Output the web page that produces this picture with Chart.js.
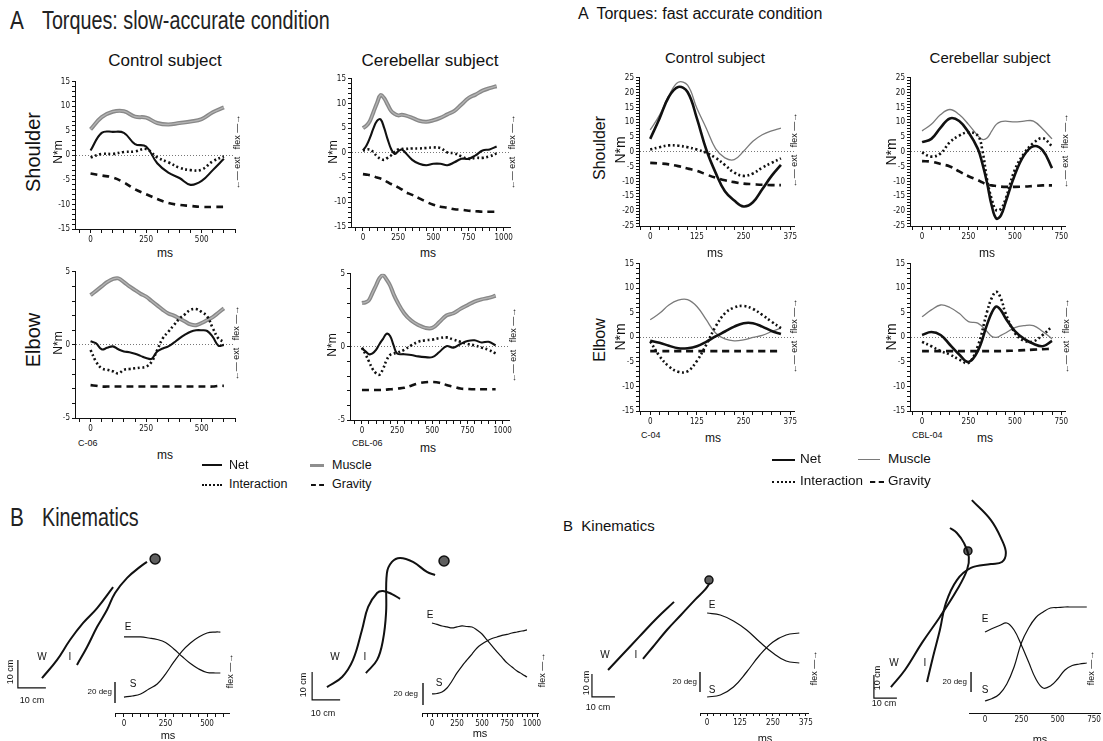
<!DOCTYPE html>
<html>
<head>
<meta charset="utf-8">
<script src="https://cdn.jsdelivr.net/npm/chart.js@4.4.1/dist/chart.umd.min.js"></script>
<style>
  body { margin: 0; background: #fff; width: 1103px; height: 741px; position: relative; overflow: hidden;
         font-family: "Liberation Sans", Arial, sans-serif; color: #111; }
  canvas { position: absolute; }
  .t { position: absolute; white-space: pre; line-height: 1; }
  .lg { position: absolute; height: 0; }
</style>
</head>
<body>
<script>
// ========== TORQUE DATA: SLOW-ACCURATE ==========
const slowCtlT = [0, 50, 100, 150, 200, 250, 300, 350, 400, 450, 500, 550, 600];
const slowCtlShoulderNet = [1.0, 4.6, 4.8, 4.6, 2.3, 1.8, -1.6, -3.5, -4.6, -6.0, -5.2, -3.0, -0.7];
const slowCtlShoulderMuscle = [5.3, 7.8, 8.9, 9.0, 7.9, 7.7, 6.6, 6.3, 6.6, 6.9, 7.4, 8.8, 9.8];
const slowCtlShoulderInter = [-0.4, 0.3, 0.3, 0.7, 0.8, 1.3, -0.4, -1.4, -2.5, -3.0, -2.9, -1.2, -0.2];
const slowCtlShoulderGrav = [-3.7, -4.1, -4.5, -5.5, -6.9, -7.9, -8.9, -9.7, -10.1, -10.3, -10.5, -10.5, -10.5];

const slowCtlElbowT = [0, 25, 50, 75, 100, 125, 150, 175, 200, 225, 250, 275, 300, 325, 350, 375, 400, 425, 450, 475, 500, 525, 550, 575, 600];
const slowCtlElbowNet = [0.25, 0.1, -0.3, -0.2, -0.1, -0.3, -0.45, -0.5, -0.6, -0.75, -0.9, -0.95, -0.45, -0.25, -0.1, 0.15, 0.45, 0.7, 0.9, 1.0, 1.0, 0.95, 0.55, -0.05, 0.0];
const slowCtlElbowMuscle = [3.4, 3.7, 4.0, 4.3, 4.5, 4.55, 4.3, 4.0, 3.75, 3.5, 3.3, 3.0, 2.7, 2.4, 2.15, 2.0, 1.8, 1.6, 1.4, 1.35, 1.5, 1.7, 1.9, 2.2, 2.5];
const slowCtlElbowInter = [-0.35, -1.15, -1.6, -1.7, -1.8, -1.95, -1.7, -1.65, -1.6, -1.55, -1.5, -1.15, -0.35, 0.45, 0.9, 1.35, 1.8, 2.1, 2.4, 2.45, 2.25, 1.95, 1.15, 0.45, 0.2];
const slowCtlElbowGrav = [-2.75, -2.8, -2.85, -2.85, -2.85, -2.85, -2.85, -2.85, -2.85, -2.85, -2.85, -2.85, -2.85, -2.85, -2.85, -2.85, -2.85, -2.85, -2.85, -2.85, -2.85, -2.85, -2.85, -2.8, -2.8];

const slowCblShoulderT = [0, 25, 50, 75, 100, 125, 150, 175, 200, 225, 250, 275, 300, 350, 400, 450, 500, 550, 600, 650, 700, 750, 800, 850, 900, 950];
const slowCblShoulderNet = [0.5, 1.5, 3.1, 5.0, 6.5, 6.8, 5.1, 2.8, 0.8, -0.2, 0.3, 0.7, 0.1, -1.4, -2.2, -2.5, -2.2, -2.2, -2.5, -1.9, -1.2, -1.2, -0.5, 0.5, 0.7, 1.3];
const slowCblShoulderMuscle = [5.0, 5.5, 6.5, 8.3, 10.1, 11.7, 11.1, 9.8, 8.5, 7.9, 7.6, 7.7, 7.6, 7.1, 6.5, 6.3, 6.6, 7.1, 7.8, 8.5, 9.8, 11.1, 11.8, 12.6, 13.1, 13.5];
const slowCblShoulderInter = [0.5, 0.6, 0.7, 0.1, -0.7, -1.2, -1.4, -1.0, -0.5, 0.2, 0.7, 0.8, 0.8, 0.9, 0.9, 1.0, 1.1, 1.0, 0.1, -0.1, -0.7, -1.2, -1.0, -1.0, -0.7, -0.1];
const slowCblShoulderGrav = [-4.3, -4.4, -4.5, -4.7, -5.0, -5.2, -5.5, -5.9, -6.3, -6.6, -7.0, -7.4, -7.9, -8.5, -9.2, -9.9, -10.5, -10.9, -11.1, -11.4, -11.5, -11.7, -11.8, -11.9, -11.9, -11.9];

const slowCblElbowT = [0, 25, 50, 75, 100, 125, 150, 175, 200, 225, 250, 300, 350, 400, 450, 500, 550, 600, 650, 700, 750, 800, 850, 900, 950];
const slowCblElbowNet = [-0.1, -0.3, -0.5, -0.45, -0.2, 0.2, 0.55, 0.9, 0.75, 0.1, -0.45, -0.5, -0.55, -0.65, -0.7, -0.7, -0.35, 0.05, -0.05, 0.2, 0.4, 0.45, 0.3, 0.35, 0.1];
const slowCblElbowMuscle = [3.0, 3.05, 3.2, 3.7, 4.2, 4.7, 4.9, 4.6, 4.2, 3.6, 3.1, 2.3, 1.8, 1.5, 1.3, 1.3, 1.7, 2.15, 2.3, 2.6, 2.85, 3.1, 3.25, 3.35, 3.5];
const slowCblElbowInter = [-0.05, -0.5, -1.0, -1.5, -1.8, -1.9, -1.5, -0.9, -0.55, -0.45, -0.4, -0.2, 0.1, 0.35, 0.45, 0.5, 0.6, 0.65, 0.5, 0.35, 0.2, 0.1, -0.05, -0.2, -0.45];
const slowCblElbowGrav = [-2.95, -2.95, -2.95, -2.95, -2.95, -2.95, -2.95, -2.92, -2.9, -2.88, -2.85, -2.8, -2.65, -2.5, -2.42, -2.4, -2.45, -2.6, -2.72, -2.85, -2.88, -2.9, -2.9, -2.9, -2.9];

// ========== TORQUE DATA: FAST ACCURATE ==========
const fastCtlT = [0, 25, 50, 75, 100, 125, 150, 175, 200, 225, 250, 275, 300, 325, 350];
const fastCtlShoulderNet = [4.4, 11.3, 18.6, 21.9, 20.2, 11.3, 0.8, -7, -13.3, -16.4, -18.4, -17, -12.6, -8.1, -4.4];
const fastCtlShoulderMuscle = [7.4, 12.4, 19, 23.5, 22.5, 14.7, 8, 1.1, -2, -2.6, 0.2, 3.6, 5.8, 7.1, 8.0];
const fastCtlShoulderInter = [0.8, 1.6, 2.2, 2.1, 1.6, 0.8, -0.3, -2, -4.4, -7, -8.1, -7.3, -5.3, -3.7, -2.2];
const fastCtlShoulderGrav = [-3.7, -3.9, -4.2, -4.8, -5.6, -6.4, -7.6, -8.7, -9.6, -10.2, -10.7, -10.9, -11.1, -11.2, -11.2];

const fastCtlElbowNet = [-0.7, -1.1, -1.7, -2.2, -2.2, -1.8, -0.9, 0.2, 1.2, 2.2, 2.9, 2.9, 2.2, 1.3, 0.7];
const fastCtlElbowMuscle = [3.6, 4.9, 6.6, 7.6, 7.7, 6.3, 3.6, 0.9, -0.3, -0.7, -0.5, 0, 0.4, 1.2, 1.9];
const fastCtlElbowInter = [-0.8, -3.8, -5.9, -7.0, -6.9, -4.8, -1.5, 2.2, 4.9, 6.1, 6.4, 5.8, 4.6, 3.2, 1.9];
const fastCtlElbowGrav = [-2.8, -2.8, -2.8, -2.8, -2.8, -2.8, -2.8, -2.8, -2.8, -2.8, -2.8, -2.8, -2.8, -2.8, -2.8];

const fastCblShoulderT = [0, 50, 100, 150, 200, 250, 300, 325, 350, 375, 400, 425, 450, 500, 550, 600, 650, 700];
const fastCblShoulderNet = [3.3, 4.4, 8.2, 11.3, 10.4, 6.6, 1.1, -4.0, -10.4, -18.1, -22.5, -21.4, -17, -7.7, -1.1, 1.9, 0.5, -5.5];
const fastCblShoulderMuscle = [7.1, 9.3, 12.6, 14.3, 12.6, 9.3, 5.5, 4.2, 4.7, 7.0, 9.3, 10.2, 10.4, 10.1, 10.4, 10.4, 7.7, 4.4];
const fastCblShoulderInter = [-0.2, -1.6, -0.5, 3.3, 5.5, 6.6, 5.5, 0.5, -9.3, -15.9, -19.7, -19.2, -15.9, -6, -0.5, 3.0, 4.6, 1.9];
const fastCblShoulderGrav = [-3.1, -3.3, -4.1, -4.9, -6.6, -8.2, -9.5, -10.3, -11, -11.3, -11.5, -11.7, -11.8, -11.8, -11.7, -11.5, -11.3, -11.3];

const fastCblElbowT = [0, 50, 100, 150, 200, 250, 300, 350, 375, 400, 425, 450, 500, 550, 600, 650, 700];
const fastCblElbowNet = [0.5, 1.1, 0.5, -1.5, -3.5, -5.0, -2.8, 2.6, 5.0, 6.3, 5.5, 3.9, 1.3, -0.3, -1.3, -1.8, -0.7];
const fastCblElbowMuscle = [4.2, 5.6, 6.6, 6.1, 4.9, 3.2, 2.9, 1.2, 0.2, 0, 0.4, 0.9, 2.0, 2.4, 2.4, 1.2, -0.3];
const fastCblElbowInter = [-0.9, -1.8, -2.8, -3.5, -4.5, -5.2, -1.8, 5.2, 8.0, 9.3, 7.9, 4.9, 0.9, -0.7, -0.8, 0.5, 2.2];
const fastCblElbowGrav = [-2.8, -2.8, -2.8, -2.8, -2.8, -2.8, -2.8, -2.8, -2.8, -2.8, -2.8, -2.75, -2.7, -2.6, -2.5, -2.4, -2.3];

// ========== TICK LABELS ==========
const slowShoulderTicks = [-15, -10, -5, 0, 5, 10, 15];
const slowElbowTicks = [-5, 0, 5];
const fastShoulderTicks = [-25, -20, -15, -10, -5, 0, 5, 10, 15, 20, 25];
const fastElbowTicks = [-15, -10, -5, 0, 5, 10, 15];
const slowCtlMsTicks = [0, 250, 500];
const slowCblMsTicks = [0, 250, 500, 750, 1000];
const fastCtlMsTicks = [0, 125, 250, 375];
const fastCblMsTicks = [0, 250, 500, 750];

// ========== KINEMATICS: JOINT ANGLES (deg, arbitrary offset) ==========
const slowCtlKinT = [0, 50, 100, 150, 200, 250, 300, 350, 400, 450, 500, 550, 580];
const slowCtlElbowAng = [72.4, 72.4, 72.4, 71.4, 70.0, 67.1, 61.0, 53.8, 47.1, 41.9, 38.6, 38.1, 38.1];
const slowCtlShoulderAng = [15.2, 16.2, 18.1, 22.9, 27.6, 37.1, 48.6, 59.0, 66.7, 72.4, 76.2, 77.1, 77.1];

const slowCblKinT = [0, 50, 100, 150, 200, 250, 300, 350, 400, 450, 500, 550, 600, 650, 700, 750, 800, 850, 900, 950];
const slowCblElbowAng = [81.8, 80.5, 79.1, 78.2, 77.3, 78.2, 79.1, 78.6, 78.2, 75.5, 71.8, 66.4, 60.9, 55.5, 50.5, 45.5, 41.8, 38.2, 35.5, 32.7];
const slowCblShoulderAng = [17.3, 17.7, 19.1, 22.7, 29.1, 36.4, 42.7, 48.2, 53.6, 59.1, 62.7, 65.5, 67.7, 69.1, 70.5, 71.4, 72.7, 73.6, 74.5, 75.5];

const fastCtlKinT = [0, 50, 100, 150, 200, 250, 300, 350];
const fastCtlElbowAng = [100, 98, 92, 83, 71, 60, 52, 50];
const fastCtlShoulderAng = [16, 18, 26, 41, 58, 71, 78, 80];

const fastCblKinT = [0, 50, 100, 150, 200, 250, 300, 350, 400, 450, 500, 550, 600, 650, 700];
const fastCblElbowAng = [81, 84.5, 87.5, 90, 83, 68, 51, 34, 25, 27, 34, 43, 47.5, 49, 50];
const fastCblShoulderAng = [12, 14.5, 19, 29, 46, 70, 85, 95.5, 101, 105, 105.5, 106, 106, 106, 106];

// ========== KINEMATICS: HAND PATHS (cm) ==========
const slowCtlWX = [13.2, 18.6, 23.2, 27.9, 32.9, 38.6];
const slowCtlWY = [9.6, 16.1, 23.2, 29.3, 34.6, 42.1];
const slowCtlIX = [25.7, 29.3, 32.9, 36.4, 39.3, 43.6, 48.2, 50.7];
const slowCtlIY = [14.3, 20.7, 27.9, 33.9, 40.0, 45.4, 49.3, 51.1];
const slowCtlTarget = [53.6, 52.1];

const slowCblWX = [13.2, 18.6, 22.5, 25.7, 27.9, 31.1, 33.2, 36.4, 39.3];
const slowCblWY = [6.4, 10.0, 16.1, 26.8, 35.0, 40.0, 40.7, 39.6, 37.9];
const slowCblIX = [27.1, 31.1, 33.2, 34.3, 34.6, 36.4, 39.3, 43.9, 48.9, 51.8];
const slowCblIY = [11.4, 16.1, 23.2, 32.9, 47.1, 51.1, 52.5, 51.1, 47.5, 46.4];
const slowCblTarget = [55.0, 51.4];

const fastCtlWX = [12.2, 18.3, 25.7, 33.5, 40.9];
const fastCtlWY = [15.2, 21.7, 29.6, 37.8, 44.8];
const fastCtlIX = [27.4, 31.7, 37.8, 43.9, 50.0, 54.3, 56.5];
const fastCtlIY = [20.0, 25.2, 32.6, 39.1, 45.7, 50.0, 53.0];
const fastCtlTarget = [56.1, 54.3];

const fastCblWX = [17.8, 23.9, 31.3, 39.1, 46.5, 50.9, 51.7, 49.6, 46.5, 43.5];
const fastCblWY = [7.8, 15.2, 27.0, 38.3, 50.0, 58.7, 64.3, 70.4, 74.8, 77.0];
const fastCblIX = [33.5, 36.1, 39.1, 41.7, 46.5, 52.6, 61.3, 66.1, 67.8, 66.1, 61.3, 53.0];
const fastCblIY = [10.0, 20.9, 32.6, 44.3, 54.3, 59.6, 61.3, 62.2, 66.1, 71.7, 80.4, 89.1];
const fastCblTarget = [51.3, 67.0];

const scaleBarCm = 10;
const scaleBarDeg = 20;

// ========== HELPERS ==========
const TICK_FONT = { family: '"Liberation Sans Narrow", "DejaVu Sans Condensed", "Liberation Sans", sans-serif', size: 8 };
const INK = "#111";
const YW = 26, PT = 5, PR = 8, XH = 16;

function addCanvas(id, left, top, w, h) {
  const c = document.createElement("canvas");
  c.id = id;
  c.width = w;
  c.height = h;
  c.style.left = left + "px";
  c.style.top = top + "px";
  document.body.appendChild(c);
  return c;
}

function pts(xs, ys) {
  return xs.map(function (x, i) { return { x: x, y: ys[i] }; });
}

const baseOpts = {
  responsive: false,
  animation: false,
  devicePixelRatio: 1,
  plugins: { legend: { display: false }, tooltip: { enabled: false } },
  elements: { point: { radius: 0 }, line: { tension: 0.4, borderCapStyle: "butt" } }
};

function msAxis(range, step, labels, tickLen) {
  return {
    type: "linear",
    min: range[0],
    max: range[1],
    afterFit: function (s) { s.height = XH; },
    ticks: {
      stepSize: step, includeBounds: false, autoSkip: false, maxRotation: 0,
      font: TICK_FONT, color: INK, padding: 2,
      callback: function (v) { return labels.includes(v) ? String(v) : ""; }
    },
    grid: { drawOnChartArea: false, drawTicks: tickLen > 0, tickColor: INK, tickLength: tickLen },
    border: { color: INK, width: 1 }
  };
}

function torquePanel(id, box, xRange, xStep, xLabels, yRange, yLabels, t, net, inter, grav, musc, fast) {
  const l = box[0], tp = box[1], r = box[2], b = box[3];
  const cv = addCanvas(id, l - YW, tp - PT, r - l + YW + PR, b - tp + PT + XH);
  const sets = [
    { label: "Net", data: pts(t, net), borderColor: INK, borderWidth: fast ? 2.6 : 2.1 },
    { label: "Interaction", data: pts(t, inter), borderColor: INK, borderWidth: 2.6, borderDash: [2, 2.6] },
    { label: "Gravity", data: pts(t, grav), borderColor: INK, borderWidth: 2.6, borderDash: [7, 5] }
  ];
  if (fast) {
    sets.push({ label: "Muscle", data: pts(t, musc), borderColor: "#7a7a7a", borderWidth: 1.3 });
  } else {
    // thick grey band with a lighter core, like the printed trace
    sets.push({ label: "Muscle core", data: pts(t, musc), borderColor: "#b4b4b4", borderWidth: 1.3 });
    sets.push({ label: "Muscle", data: pts(t, musc), borderColor: "#888", borderWidth: 4 });
  }
  new Chart(cv, {
    type: "line",
    data: { datasets: sets },
    options: Object.assign({}, baseOpts, {
      layout: { autoPadding: false, padding: { left: 0, top: PT, right: PR, bottom: 0 } },
      scales: {
        x: msAxis(xRange, xStep, xLabels, 4),
        y: {
          min: yRange[0],
          max: yRange[1],
          afterFit: function (s) { s.width = YW; },
          ticks: {
            stepSize: 1, autoSkip: false, font: TICK_FONT, color: INK, padding: 2,
            callback: function (v) { return yLabels.includes(v) ? String(v) : ""; }
          },
          grid: {
            color: function (c) { return c.tick && c.tick.value === 0 ? "#777" : "rgba(0,0,0,0)"; },
            tickColor: INK, tickLength: 3, lineWidth: 1
          },
          border: { color: INK, width: 1, dash: [1, 2] }
        }
      }
    })
  });
}

function anglePanel(id, box, xRange, xStep, xLabels, tickLen, yTop, t, elbow, shoulder, bar) {
  const l = box[0], tp = box[1], r = box[2], b = box[3];
  const PL = 12, PRR = 12;
  const cv = addCanvas(id, l - PL, tp, r - l + PL + PRR, b - tp + XH);
  new Chart(cv, {
    type: "line",
    data: {
      datasets: [
        { label: "E", data: pts(t, elbow), borderColor: INK, borderWidth: 1.2 },
        { label: "S", data: pts(t, shoulder), borderColor: INK, borderWidth: 1.2 },
        { label: "bar", data: [{ x: bar[0], y: bar[1] }, { x: bar[0], y: bar[1] + scaleBarDeg }],
          borderColor: INK, borderWidth: 1.4, tension: 0, clip: false }
      ]
    },
    options: Object.assign({}, baseOpts, {
      layout: { autoPadding: false, padding: { left: PL, top: 0, right: PRR, bottom: 0 } },
      scales: {
        x: msAxis(xRange, xStep, xLabels, tickLen),
        y: { display: false, min: 0, max: yTop }
      }
    })
  });
}

function pathPanel(id, box, xMax, yMax, wx, wy, ix, iy, target, dotR, bar) {
  const l = box[0], tp = box[1], r = box[2], b = box[3];
  const cv = addCanvas(id, l, tp, r - l, b - tp);
  new Chart(cv, {
    type: "line",
    data: {
      datasets: [
        { label: "W", data: pts(wx, wy), borderColor: INK, borderWidth: 2 },
        { label: "I", data: pts(ix, iy), borderColor: INK, borderWidth: 2 },
        { label: "target", data: [{ x: target[0], y: target[1] }], showLine: false,
          pointRadius: dotR, backgroundColor: "#5f5f5f", borderColor: INK, borderWidth: 1.5 },
        { label: "bar", data: [{ x: bar[0], y: bar[1] + scaleBarCm }, { x: bar[0], y: bar[1] }, { x: bar[0] + scaleBarCm, y: bar[1] }],
          borderColor: INK, borderWidth: 1.2, tension: 0 }
      ]
    },
    options: Object.assign({}, baseOpts, {
      layout: { autoPadding: false, padding: 0 },
      scales: {
        x: { type: "linear", display: false, min: 0, max: xMax },
        y: { display: false, min: 0, max: yMax }
      }
    })
  });
}

function label(str, x, y, size, opts) {
  opts = opts || {};
  const d = document.createElement("div");
  d.className = "t";
  d.textContent = str;
  d.style.left = x + "px";
  d.style.top = y + "px";
  d.style.fontSize = size + "px";
  if (opts.color) d.style.color = opts.color;
  let tf;
  if (opts.anchor === "left") { tf = "translate(0,-50%)"; d.style.transformOrigin = "left center"; }
  else if (opts.anchor === "right") { tf = "translate(-100%,-50%)"; d.style.transformOrigin = "right center"; }
  else tf = "translate(-50%,-50%)";
  if (opts.rot) tf += " rotate(-90deg)";
  if (opts.sx) tf += " scaleX(" + opts.sx + ")";
  d.style.transform = tf;
  document.body.appendChild(d);
}

function legendLine(x1, x2, y, css) {
  const d = document.createElement("div");
  d.className = "lg";
  d.style.left = x1 + "px";
  d.style.top = y + "px";
  d.style.width = (x2 - x1) + "px";
  d.style.borderTop = css;
  document.body.appendChild(d);
}

// ========== TORQUE PANELS ==========
torquePanel("p1", [75, 80, 235, 229], [-70, 650], 50, slowCtlMsTicks, [-15, 15], slowShoulderTicks,
  slowCtlT, slowCtlShoulderNet, slowCtlShoulderInter, slowCtlShoulderGrav, slowCtlShoulderMuscle, false);
torquePanel("p2", [351, 77, 510, 227], [-85, 1045], 50, slowCblMsTicks, [-15, 15], slowShoulderTicks,
  slowCblShoulderT, slowCblShoulderNet, slowCblShoulderInter, slowCblShoulderGrav, slowCblShoulderMuscle, false);
torquePanel("p3", [75, 270, 235, 418], [-70, 650], 50, slowCtlMsTicks, [-5, 5], slowElbowTicks,
  slowCtlElbowT, slowCtlElbowNet, slowCtlElbowInter, slowCtlElbowGrav, slowCtlElbowMuscle, false);
torquePanel("p4", [350, 272, 509, 420], [-85, 1045], 50, slowCblMsTicks, [-5, 5], slowElbowTicks,
  slowCblElbowT, slowCblElbowNet, slowCblElbowInter, slowCblElbowGrav, slowCblElbowMuscle, false);
torquePanel("p5", [639, 76, 794, 226], [-30, 385], 25, fastCtlMsTicks, [-25, 25], fastShoulderTicks,
  fastCtlT, fastCtlShoulderNet, fastCtlShoulderInter, fastCtlShoulderGrav, fastCtlShoulderMuscle, true);
torquePanel("p6", [910, 76, 1065, 226], [-65, 770], 50, fastCblMsTicks, [-25, 25], fastShoulderTicks,
  fastCblShoulderT, fastCblShoulderNet, fastCblShoulderInter, fastCblShoulderGrav, fastCblShoulderMuscle, true);
torquePanel("p7", [639, 262, 794, 411], [-30, 385], 25, fastCtlMsTicks, [-15, 15], fastElbowTicks,
  fastCtlT, fastCtlElbowNet, fastCtlElbowInter, fastCtlElbowGrav, fastCtlElbowMuscle, true);
torquePanel("p8", [910, 262, 1065, 411], [-65, 770], 50, fastCblMsTicks, [-15, 15], fastElbowTicks,
  fastCblElbowT, fastCblElbowNet, fastCblElbowInter, fastCblElbowGrav, fastCblElbowMuscle, true);

// ========== KINEMATICS PANELS ==========
pathPanel("k1", [5, 540, 175, 705], 60.7, 58.9, slowCtlWX, slowCtlWY, slowCtlIX, slowCtlIY, slowCtlTarget, 5, [4.6, 6.1]);
pathPanel("k2", [290, 540, 460, 705], 60.7, 58.9, slowCblWX, slowCblWY, slowCblIX, slowCblIY, slowCblTarget, 5, [7.9, 1.8]);
pathPanel("k3", [580, 560, 720, 705], 60.9, 63.0, fastCtlWX, fastCtlWY, fastCtlIX, fastCtlIY, fastCtlTarget, 4, [5.2, 3.5]);
pathPanel("k4", [850, 490, 1010, 705], 69.6, 93.5, fastCblWX, fastCblWY, fastCblIX, fastCblIY, fastCblTarget, 4, [10.4, 3.0]);

anglePanel("a1", [115, 600, 229, 713], [-54, 632], 50, slowCtlMsTicks, 4, 107.6, slowCtlKinT, slowCtlElbowAng, slowCtlShoulderAng, [-54, 9.5]);
anglePanel("a2", [422, 600, 538, 713], [-100, 1060], 50, slowCblMsTicks, 4, 102.7, slowCblKinT, slowCblElbowAng, slowCblShoulderAng, [-90, 7.3]);
anglePanel("a3", [700, 600, 808, 713], [-27, 383], 25, fastCtlMsTicks, 3, 113, fastCtlKinT, fastCtlElbowAng, fastCtlShoulderAng, [-27, 21]);
anglePanel("a4", [969, 590, 1100, 713], [-110, 791], 250, fastCblMsTicks, 0, 123, fastCblKinT, fastCblElbowAng, fastCblShoulderAng, [-96, 21]);

// ========== TEXT ==========
label("A", 10, 20, 26, { anchor: "left", sx: 0.8, color: "#222" });
label("Torques: slow-accurate condition", 42, 20, 26, { anchor: "left", sx: 0.76, color: "#222" });
label("B", 10, 517, 26, { anchor: "left", sx: 0.8, color: "#222" });
label("Kinematics", 42, 517, 26, { anchor: "left", sx: 0.76, color: "#222" });
label("A  Torques: fast accurate condition", 578, 14, 16, { anchor: "left" });
label("B  Kinematics", 563, 525, 15, { anchor: "left" });

label("Control subject", 165, 60, 17);
label("Cerebellar subject", 430, 60, 17);
label("Control subject", 715, 57, 15);
label("Cerebellar subject", 990, 57, 15);

label("Shoulder", 33, 152, 20, { rot: true });
label("Elbow", 33, 340, 20, { rot: true });
label("Shoulder", 600, 148, 16, { rot: true });
label("Elbow", 600, 340, 16, { rot: true });

[[58, 152], [333, 152], [58, 343], [332, 345]].forEach(function (p) { label("N*m", p[0], p[1], 12, { rot: true }); });
[[620, 150], [891, 152], [620, 337], [891, 337]].forEach(function (p) { label("N*m", p[0], p[1], 14, { rot: true }); });
[[237, 152], [512, 152], [236, 343], [513, 345], [794, 150], [1065, 151], [794, 336], [1066, 336]].forEach(function (p) {
  label("\u2190\u2014 ext   flex \u2014\u2192", p[0], p[1], 9, { rot: true });
});

[[165, 253], [428, 253], [715, 253], [987, 253], [165, 455], [428, 448], [713, 438], [985, 438]].forEach(function (p) {
  label("ms", p[0], p[1], 12);
});
label("C-06", 78, 443, 9, { anchor: "left" });
label("CBL-06", 352, 443, 9, { anchor: "left" });
label("C-04", 641, 435, 9, { anchor: "left" });
label("CBL-04", 912, 435, 9, { anchor: "left" });

// legends
legendLine(202, 222, 464, "2px solid #111");
label("Net", 229, 465, 12.5, { anchor: "left" });
legendLine(310, 324, 464, "3px solid #8e8e8e");
label("Muscle", 332, 465, 12.5, { anchor: "left" });
legendLine(202, 222, 484, "2px dotted #111");
label("Interaction", 229, 484, 12.5, { anchor: "left" });
legendLine(311, 324, 484, "2px dashed #111");
label("Gravity", 332, 484, 12.5, { anchor: "left" });

legendLine(772, 795, 459, "2.5px solid #111");
label("Net", 800, 459, 13.5, { anchor: "left" });
legendLine(858, 880, 459, "1.5px solid #7a7a7a");
label("Muscle", 888, 459, 13.5, { anchor: "left" });
legendLine(772, 795, 481, "2.5px dotted #111");
label("Interaction", 800, 481, 13.5, { anchor: "left" });
legendLine(870, 884, 481, "2.5px dashed #111");
label("Gravity", 888, 481, 13.5, { anchor: "left" });

// kinematics annotations
[
  [[42, 657], [70, 657], [10, 672], [32, 700], [128, 627], [133, 684], [112, 692], [230, 671], [168, 735]],
  [[335, 657], [365, 657], [303, 685], [323, 713], [430, 615], [439, 683], [418, 694], [542, 670], [480, 733]],
  [[605, 655], [636, 655], [586, 683], [598, 707], [712, 605], [712, 690], [697, 682], [814, 668], [765, 738]],
  [[894, 663], [925, 663], [877, 678], [884, 703], [985, 619], [985, 690], [967, 682], [1091, 668], [1040, 739]]
].forEach(function (k) {
  label("W", k[0][0], k[0][1], 10);
  label("I", k[1][0], k[1][1], 10);
  label("10 cm", k[2][0], k[2][1], 9, { rot: true });
  label("10 cm", k[3][0], k[3][1], 9);
  label("E", k[4][0], k[4][1], 10);
  label("S", k[5][0], k[5][1], 10);
  label("20 deg", k[6][0], k[6][1], 8, { anchor: "right" });
  label("flex \u2014\u2192", k[7][0], k[7][1], 9, { rot: true });
  label("ms", k[8][0], k[8][1], 11);
});
</script>
</body>
</html>
